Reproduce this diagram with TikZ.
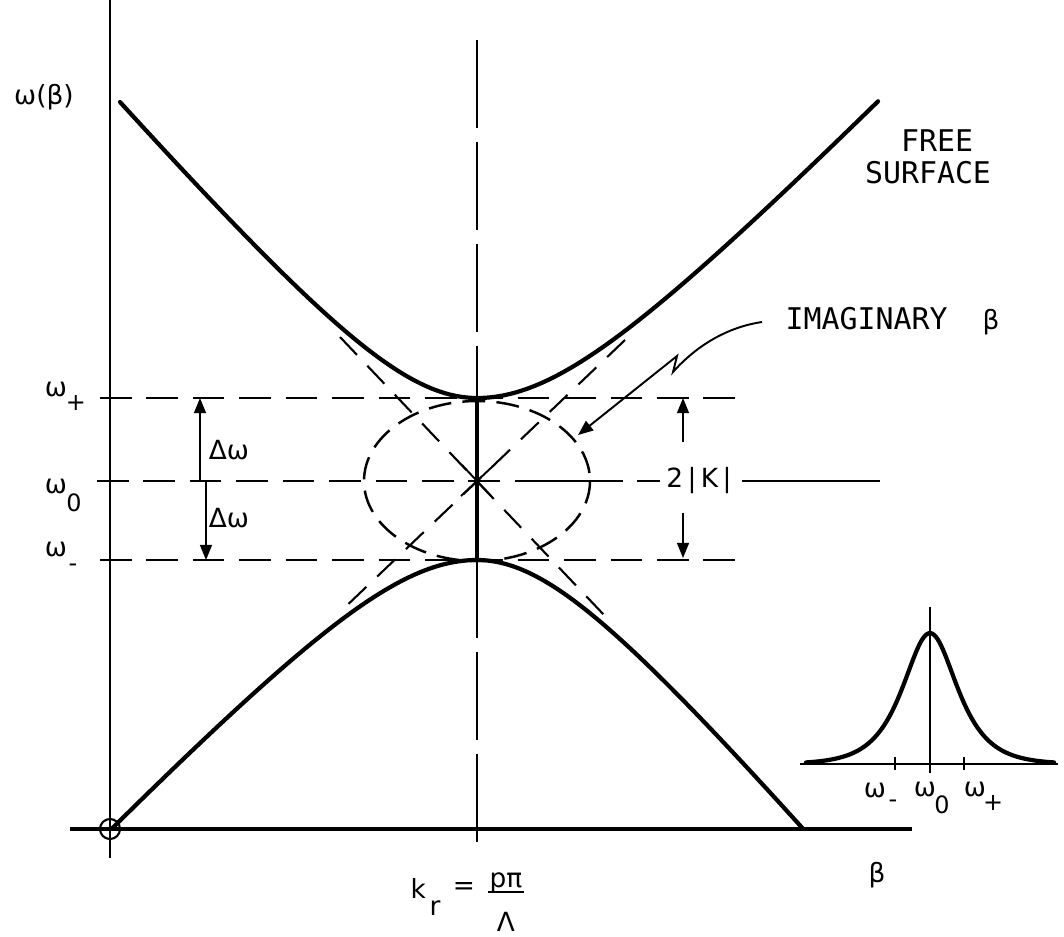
\documentclass[tikz,border=0pt]{standalone}
\usepackage{fontspec}
\setmainfont{DejaVu Sans}
\newfontfamily\wordfont{DejaVu Sans Mono}
\usetikzlibrary{arrows.meta}
\begin{document}
\begin{tikzpicture}[x=0.01cm,y=-0.01cm,
  sym/.style={font=\fontsize{7.5pt}{9pt}\selectfont, inner sep=0pt},
  subs/.style={font=\fontsize{6.8pt}{8pt}\selectfont, inner sep=0pt},
  word/.style={font=\wordfont\fontsize{8.5pt}{10pt}\selectfont, inner sep=0pt},
  curve/.style={line width=1.2pt, line cap=round, line join=round},
  axisline/.style={line width=0.75pt},
  baseaxis/.style={line width=1.1pt},
  guide/.style={line width=0.6pt, dash pattern=on 9pt off 4.2pt},
  asym/.style={line width=0.6pt, dash pattern=on 7pt off 4.3pt},
  elldash/.style={line width=0.7pt, dash pattern=on 6.5pt off 3.2pt},
  centreline/.style={line width=0.4pt, dash pattern=on 25pt off 4pt},
  thin/.style={line width=0.45pt},
  arr/.style={line width=0.45pt, -{Triangle[length=4.3pt,width=3.4pt]}},
]
\useasboundingbox (0,0) rectangle (1064,936);
\path[fill=white] (0,0) rectangle (1064,936);

% key coordinates
\coordinate (O) at (110,829);
\coordinate (C) at (477,481);
\coordinate (Wp) at (477,398);
\coordinate (Wm) at (477,560);

% axes
\draw[axisline] (110,0) -- (110,858);
\draw[baseaxis] (70,829) -- (912,829);
\draw[line width=0.6pt] (O) circle [radius=10];

% vertical centre line
\draw[centreline] (477,40) -- (477,843);

% horizontal guide lines
\draw[guide] (100,398) -- (740,398);
\draw[guide] (100,560) -- (740,560);
\draw[guide] (97,481) -- (520,481);
\draw[line width=0.55pt] (520,481) -- (623,481);
\draw[line width=0.55pt] (637,481) -- (660,481);
\draw[line width=0.55pt] (742,481) -- (880,481);

% asymptotes
\draw[asym] (340,337) -- (605,616);
\draw[asym] (625,340) -- (340,612);
\draw[line width=0.55pt] (462,465) -- (492,497);
\draw[line width=0.55pt] (461,496) -- (493,466);

% imaginary-beta ellipse
\draw[elldash] (C) ellipse [x radius=113, y radius=80];

% dispersion curves
\draw[curve] plot[smooth, domain=120:477, samples=70]
   (\x, {481 - (100*sqrt(1.96 + (0.01157*(477-\x))^2) - 57)})
   -- plot[smooth, domain=477:878, samples=70]
   (\x, {481 - (100*sqrt(1.96 + (0.01031*(\x-477))^2) - 57)});
\draw[curve] plot[smooth, domain=112:477, samples=70]
   (\x, {481 + (100*sqrt(1.96 + (0.01052*(477-\x))^2) - 61)})
   -- plot[smooth, domain=477:803, samples=70]
   (\x, {481 + (100*sqrt(1.96 + (0.01178*(\x-477))^2) - 61)});
\draw[curve] (Wp) -- (Wm);

% delta omega arrows
\coordinate (d1a) at (200,481); \coordinate (d1b) at (200,398);
\coordinate (d2a) at (206,481); \coordinate (d2b) at (206,560);
\draw[arr] (d1a) -- (d1b);
\draw[arr] (d2a) -- (d2b);
\node[sym] (dw1) at (229,450) {Δω};
\node[sym] (dw2) at (229,518) {Δω};

% 2|K| arrows
\coordinate (k1a) at (683,442); \coordinate (k1b) at (683,398);
\coordinate (k2a) at (683,513); \coordinate (k2b) at (683,558);
\draw[arr] (k1a) -- (k1b);
\draw[arr] (k2a) -- (k2b);
\node[sym] (twoK) at (699,481) {2\,|\,K\,|};

% leader to ellipse
\coordinate (lead0) at (762,322);
\coordinate (leadB) at (673,372);
\coordinate (leadA) at (677,356);
\coordinate (leadE) at (578,435);
\draw[arr, line width=0.55pt] (lead0) .. controls (728,327) and (697,345) .. (leadB) -- (leadA) -- (leadE);

% word labels
\node[word] (free) at (937,141) {FREE};
\node[word] (surf) at (928,173) {SURFACE};
\node[word, anchor=west] (imag) at (785,319) {IMAGINARY};
\node[sym] (imagb) at (991,322) {β};

% axis labels
\node[sym] (wbeta) at (44,97) {ω(β)};
\node[sym] (wpl) at (56,389) {ω};
\node[subs] (wpls) at (76,403) {+};
\node[sym] (w0l) at (56,486) {ω};
\node[subs] (w0ls) at (74,503) {0};
\node[sym] (wml) at (56,549) {ω};
\node[subs] (wmls) at (73,568) {-};

\node[sym] (betalab) at (877,875) {β};
\node[sym, anchor=base west] (kk) at (410,898) {k};
\node[sym, anchor=base west] (kr) at (429,915) {r};
\node[sym] (keq) at (464,888) {=};
\node[sym, anchor=base] (kpp) at (506,887) {pπ};
\coordinate (barL) at (488,892); \coordinate (barR) at (524,892);
\draw[line width=0.6pt] (barL) -- (barR);
\node[sym] (klam) at (506,922) {Λ};

% inset spectrum
\draw[axisline] (800,764) -- (1058,764);
\draw[thin] (930,607) -- (930,773);
\draw[thin] (895,757) -- (895,770);
\draw[thin] (964,757) -- (964,770);
\draw[curve] plot[smooth, domain=806:1054, samples=100]
   (\x, {764 - 131/cosh((\x-930)/24.3)});
\node[sym] (iwm) at (875,790) {ω};
\node[subs] (iwms) at (893,804) {-};
\node[sym] (iw0) at (925,789) {ω};
\node[subs] (iw0s) at (942,805) {0};
\node[sym] (iwp) at (975,789) {ω};
\node[subs] (iwps) at (993,803) {+};
\end{tikzpicture}
\end{document}
